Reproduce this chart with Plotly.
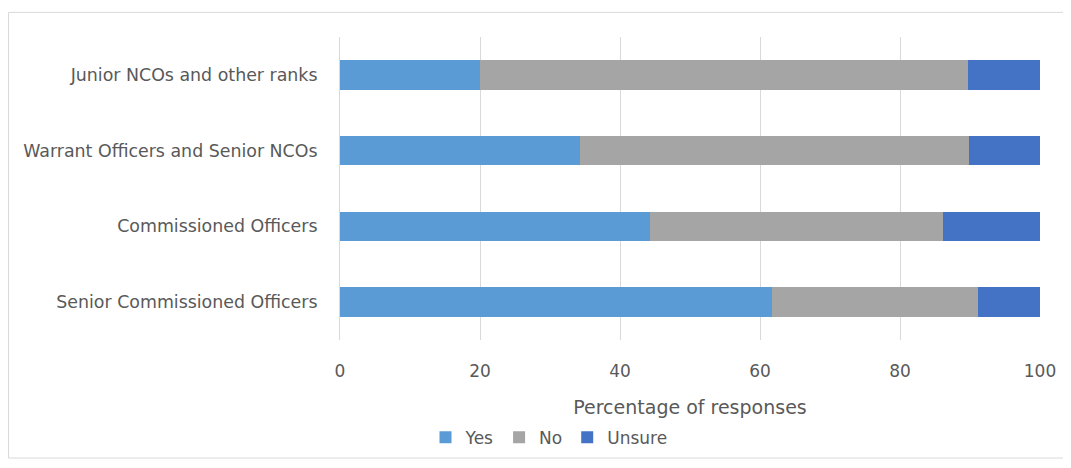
import plotly.graph_objects as go

categories = ["Senior Commissioned Officers", "Commissioned Officers",
              "Warrant Officers and Senior NCOs", "Junior NCOs and other ranks"]
yes_vals = [61.7, 44.3, 34.3, 20.0]
no_vals = [29.5, 41.8, 55.6, 69.7]
unsure_vals = [8.8, 13.9, 10.1, 10.3]
tick_vals = [0, 20, 40, 60, 80, 100]

series = [("Yes", yes_vals, "#5B9BD5"), ("No", no_vals, "#A5A5A5"), ("Unsure", unsure_vals, "#4472C4")]

fig = go.Figure()
for name, vals, color in series:
    fig.add_trace(go.Bar(y=categories, x=vals, name=name, orientation="h",
                         marker=dict(color=color, line=dict(width=0))))

font_family = "DejaVu Sans, sans-serif"
txt = "#595959"
# page has an 8px body offset; figure placed so plot spans page x 340-1040, y 37-345
W, H = 1063, 460
L, T, PW, PH = 332, 29, 700, 308
fig.update_layout(
    barmode="stack",
    bargap=0.61,
    width=W, height=H,
    margin=dict(l=L, r=W - L - PW, t=T, b=H - T - PH),
    paper_bgcolor="white", plot_bgcolor="white",
    font=dict(family=font_family, size=17, color=txt),
    showlegend=True,
    legend=dict(orientation="h", x=(549 - 340) / 700, xanchor="center",
                y=(345 - 426) / 308, yanchor="top",
                font=dict(size=17, color=txt), itemwidth=30, traceorder="normal",
                tracegroupgap=0),
    xaxis=dict(range=[0, 100], tickvals=tick_vals, showgrid=True, gridcolor="#D9D9D9",
               gridwidth=1, zeroline=False, showline=False, ticks="",
               tickfont=dict(size=17, color=txt), ticklabelstandoff=19,
               title=dict(text="Percentage of responses", font=dict(size=19, color=txt), standoff=20)),
    yaxis=dict(showline=True, linecolor="#D9D9D9", linewidth=1, ticks="", showgrid=False,
               tickfont=dict(size=17.4, color=txt), ticklabelstandoff=18,
               categoryorder="array", categoryarray=categories),
    shapes=[dict(type="rect", xref="paper", yref="paper",
                 x0=(0.5 - L) / PW, x1=(1059 - L) / PW,
                 y0=(T + PH - 457) / PH, y1=(T + PH - 4) / PH,
                 line=dict(color="#D9D9D9", width=1), fillcolor="rgba(0,0,0,0)", layer="below")],
)

fig.write_html("out.html")
